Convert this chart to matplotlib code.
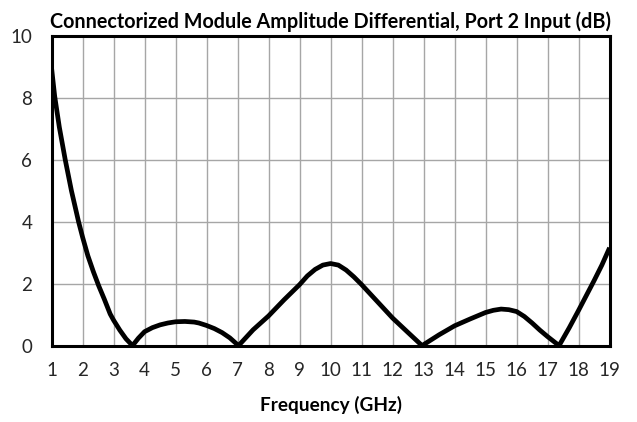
import matplotlib.pyplot as plt

# values
freq_ghz = [1.0, 1.1, 1.25, 1.44, 1.64, 1.87, 2.0, 2.17, 2.35, 2.52, 2.7, 2.89, 3.0, 3.2, 3.4, 3.61,
            3.8, 4.0, 4.25, 4.5, 4.75, 5.0, 5.3, 5.6, 5.75, 6.0, 6.25, 6.5, 6.75, 7.03,
            7.5, 8.0, 8.5, 9.0, 9.25, 9.5, 9.75, 10.0, 10.25, 10.5, 10.75, 11.0, 11.5, 12.0, 12.5, 12.95,
            13.5, 14.0, 14.5, 15.0, 15.25, 15.5, 15.75, 16.0, 16.25, 16.5, 16.75, 17.0, 17.37,
            17.7, 18.0, 18.25, 18.5, 18.75, 19.0]
amp_diff_db = [8.95, 8.05, 7.05, 6.0, 5.0, 4.0, 3.5, 2.9, 2.38, 1.93, 1.5, 1.02, 0.82, 0.5, 0.22, 0.0,
               0.24, 0.45, 0.58, 0.67, 0.73, 0.77, 0.78, 0.76, 0.73, 0.65, 0.55, 0.42, 0.25, 0.0,
               0.51, 0.96, 1.48, 1.97, 2.25, 2.46, 2.6, 2.65, 2.6, 2.44, 2.22, 1.97, 1.43, 0.89, 0.42, 0.0,
               0.35, 0.64, 0.86, 1.07, 1.14, 1.18, 1.16, 1.1, 0.94, 0.73, 0.5, 0.29, 0.0,
               0.58, 1.14, 1.62, 2.1, 2.6, 3.16]
x_ticks = list(range(1, 20))
y_ticks = [0, 2, 4, 6, 8, 10]

plt.rcParams['font.family'] = ['Lato', 'DejaVu Sans']

fig = plt.figure(figsize=(6.37, 4.22), dpi=100)
ax = fig.add_axes([0.081, 0.181, 0.876, 0.734])

ax.plot(freq_ghz, amp_diff_db, color='black', linewidth=3.4,
        solid_joinstyle='round', solid_capstyle='butt', zorder=3)

ax.set_xlim(1, 19)
ax.set_ylim(0, 10)
ax.set_xticks(x_ticks)
ax.set_yticks(y_ticks)
ax.grid(True, color='#a6a6a6', linewidth=1.0, zorder=0)
ax.set_axisbelow(True)
ax.tick_params(length=0, labelsize=13.5, labelcolor='#262626')
ax.tick_params(axis='x', pad=12)
ax.tick_params(axis='y', pad=14)

for s in ax.spines.values():
    s.set_linewidth(2.2)
    s.set_color('black')

ax.set_title('Connectorized Module Amplitude Differential, Port 2 Input (dB)',
             fontsize=14.2, fontweight='bold', pad=6)
ax.set_xlabel('Frequency (GHz)', fontsize=13.7, fontweight='bold', labelpad=12)

fig.savefig('out.png', dpi=100)
